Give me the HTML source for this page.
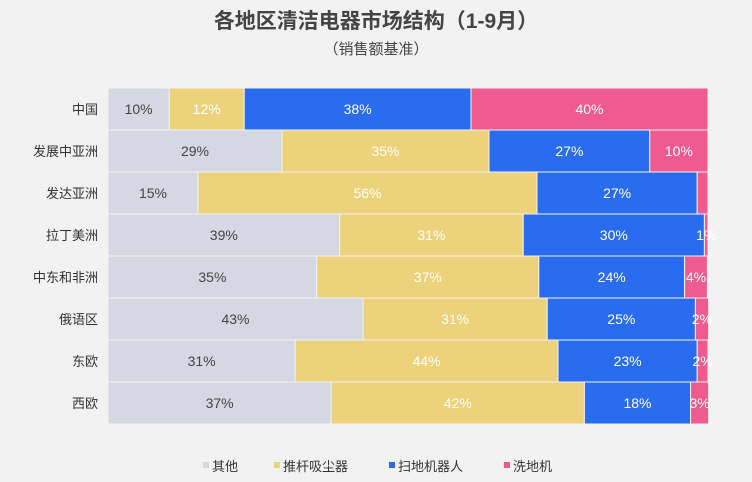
<!DOCTYPE html>
<html><head><meta charset="utf-8"><style>
body{margin:0;background:#f2f2f2;}
svg{display:block;font-family:"Liberation Sans","Noto Sans CJK SC",sans-serif;}
</style></head><body>
<svg id="chart" width="752" height="482">
<text x="376" y="28" text-anchor="middle" font-size="21" font-weight="bold" fill="#444">各地区清洁电器市场结构（1-9月）</text>
<text x="376" y="54" text-anchor="middle" font-size="15" fill="#444">（销售额基准）</text>
<g id="plot"></g>
<g id="legend"></g>
</svg>
<script>
const categories=["中国","发展中亚洲","发达亚洲","拉丁美洲","中东和非洲","俄语区","东欧","西欧"];
const seriesNames=["其他","推杆吸尘器","扫地机器人","洗地机"];
const other=[10.2,29,15,38.6,34.8,42.5,31.2,37.2];
const stick=[12.5,34.5,56.5,30.6,37,30.7,43.8,42.2];
const robot=[37.8,26.8,26.7,30.2,24.3,24.7,23.2,17.7];
const floorw=[39.5,9.7,1.8,0.6,3.8,2.2,1.8,3];
const labels=[["10%","12%","38%","40%"],["29%","35%","27%","10%"],["15%","56%","27%",""],["39%","31%","30%","1%"],["35%","37%","24%","4%"],["43%","31%","25%","2%"],["31%","44%","23%","2%"],["37%","42%","18%","3%"]];
const colors=["#d5d8e3","#ecd27a","#2a6cf0","#ef5b8f"];
const textColors=["#444","#fff","#fff","#fff"];
const series=[other,stick,robot,floorw];
const NS="http://www.w3.org/2000/svg";
const x0=108,x1=708,y0=88,rowH=42;
function xs(v){return x0+(v/100)*(x1-x0);}
function ys(i){return y0+i*rowH;}
const plot=document.getElementById("plot");
categories.forEach((c,i)=>{
  const t=document.createElementNS(NS,"text");
  
  
  t.setAttribute("x",98);t.setAttribute("y",ys(i)+rowH/2+5);
  t.setAttribute("text-anchor","end");t.setAttribute("font-size","13");t.setAttribute("fill","#333");
  t.textContent=c;plot.appendChild(t);
  let acc=0;
  series.forEach((s,k)=>{
    const v=s[i];
    const r=document.createElementNS(NS,"rect");
    
    
    r.setAttribute("x",xs(acc));r.setAttribute("y",ys(i));
    r.setAttribute("width",Math.max(0,xs(acc+v)-xs(acc)));r.setAttribute("height",rowH);
    r.setAttribute("fill",colors[k]);r.setAttribute("stroke","#f2f2f2");r.setAttribute("stroke-width","1");
    plot.appendChild(r);
    if(labels[i][k]){
      const l=document.createElementNS(NS,"text");
      
      
      l.setAttribute("x",xs(acc+v/2));l.setAttribute("y",ys(i)+rowH/2+5);
      l.setAttribute("text-anchor","middle");l.setAttribute("font-size","14");
      l.setAttribute("fill",textColors[k]);
      l.textContent=labels[i][k];plot.appendChild(l);
    }
    acc+=v;
  });
});
const legend=document.getElementById("legend");
const lx=[203,274,389,504];
seriesNames.forEach((n,k)=>{
  const r=document.createElementNS(NS,"rect");
  
  
  r.setAttribute("x",lx[k]);r.setAttribute("y",462);r.setAttribute("width",6);r.setAttribute("height",6);
  r.setAttribute("fill",colors[k]);legend.appendChild(r);
  const t=document.createElementNS(NS,"text");
  
  
  t.setAttribute("x",lx[k]+9);t.setAttribute("y",471);t.setAttribute("font-size","13");t.setAttribute("fill","#333");
  t.textContent=n;legend.appendChild(t);
});
</script>
</body></html>
